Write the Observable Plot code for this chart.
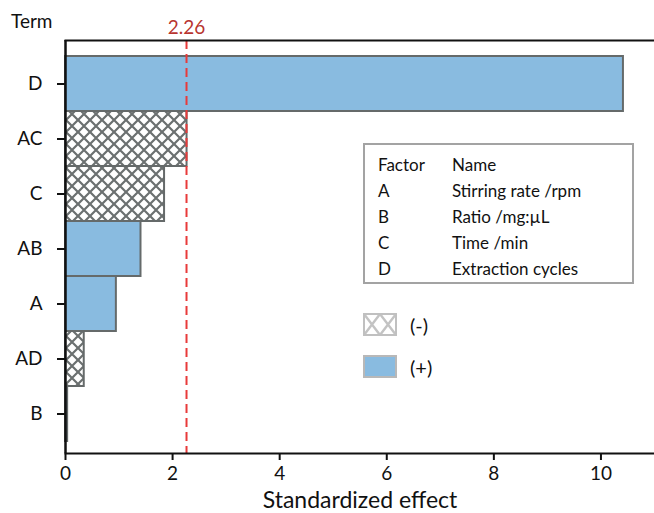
<!DOCTYPE html>
<html>
<head>
<meta charset="utf-8">
<script src="https://cdn.jsdelivr.net/npm/d3@7"></script>
<script src="https://cdn.jsdelivr.net/npm/@observablehq/plot@0.6"></script>
<style>
  html, body { margin: 0; padding: 0; background: white; }
  #wrap { position: relative; width: 654px; height: 513px; font-family: Lato, "DejaVu Sans", sans-serif; color: #111; }
  #wrap svg { display: block; }
  .abs { position: absolute; white-space: nowrap; line-height: 1; }
  #factorBox { position: absolute; left: 363px; top: 143px; width: 267px; height: 137px; border: 2px solid #a3a3a3; background: white; }
  .frow { position: absolute; left: 13px; font-size: 17px; transform: translateY(-50%); white-space: nowrap; line-height: 1; }
  .frow span.n { position: absolute; left: 74px; white-space: nowrap; }
</style>
</head>
<body>
<div id="wrap"></div>
<script>
const terms = ["D", "AC", "C", "AB", "A", "AD", "B"];
const effects = [10.42, 2.27, 1.85, 1.41, 0.95, 0.35, 0.04];
const signs = ["+", "-", "-", "+", "+", "-", "+"];
const threshold = 2.26;
const xTicks = [0, 2, 4, 6, 8, 10];
const factorCodes = ["A", "B", "C", "D"];
const factorNames = ["Stirring rate /rpm", "Ratio /mg:\u00b5L", "Time /min", "Extraction cycles"];
const signLabels = ["(-)", "(+)"];

const data = terms.map((t, i) => ({term: t, value: effects[i], sign: signs[i]}));

const chart = Plot.plot({
  width: 654,
  height: 513,
  marginLeft: 65,
  marginRight: 0,
  marginTop: 40,
  marginBottom: 60,
  style: {fontFamily: "Lato, sans-serif", background: "white", color: "#111", overflow: "visible"},
  x: {domain: [0, 11], ticks: xTicks},
  y: {domain: terms, range: [56, 441], padding: 0},
  color: {domain: ["-", "+"], range: ["url(#hatch)", "#89bbe0"]},
  marks: [
    Plot.barX(data, {x: "value", y: "term", fill: "sign", stroke: "#656a6a", strokeWidth: 2}),
    Plot.ruleX([threshold], {stroke: "#e83a3a", strokeWidth: 2, strokeDasharray: "9,5"}),
    Plot.text([threshold], {x: d => d, frameAnchor: "top", lineAnchor: "middle", dy: -13, text: d => d.toFixed(2), fill: "#b83530", fontSize: 19}),
    Plot.axisX({ticks: xTicks, tickSize: 7, tickPadding: 6, fontSize: 19, label: null, strokeWidth: 2, stroke: "#111", fill: "#111"}),
    Plot.axisY({tickSize: 8, tickPadding: 15, fontSize: 19, label: null, strokeWidth: 2, stroke: "#111", fill: "#111"}),
    Plot.ruleX([0], {stroke: "#111", strokeWidth: 2.5}),
    Plot.frame({anchor: "top", stroke: "#111", strokeWidth: 2}),
    Plot.frame({anchor: "bottom", stroke: "#111", strokeWidth: 2}),
    Plot.text(["Standardized effect"], {frameAnchor: "bottom", lineAnchor: "middle", dy: 47, fontSize: 23, fill: "#111"})
  ]
});

// hatch pattern definition
const ns = "http://www.w3.org/2000/svg";
const defs = document.createElementNS(ns, "defs");
defs.innerHTML = `<pattern id="hatch" patternUnits="userSpaceOnUse" width="12" height="12" x="66" y="0">
  <rect width="12" height="12" fill="white"/>
  <path d="M0,0L12,12M12,0L0,12" stroke="#6b7070" stroke-width="2.2"/>
</pattern>`;
chart.insertBefore(defs, chart.firstChild);

const wrap = document.getElementById("wrap");
wrap.appendChild(chart);

// Y axis title
const term = document.createElement("div");
term.className = "abs";
term.style.cssText = "left:11px;top:11px;font-size:19px;";
term.textContent = "Term";
wrap.appendChild(term);

// Factor table
const box = document.createElement("div");
box.id = "factorBox";
const rows = [["Factor", "Name"]].concat(factorCodes.map((c, i) => [c, factorNames[i]]));
rows.forEach((r, i) => {
  const d = document.createElement("div");
  d.className = "frow";
  d.style.top = (19 + i * 26) + "px";
  d.innerHTML = `<span>${r[0]}</span><span class="n">${r[1]}</span>`;
  box.appendChild(d);
});
wrap.appendChild(box);

// Sign legend
const swatches = [
  `<svg width="34" height="23"><defs><pattern id="hatch2" patternUnits="userSpaceOnUse" width="16" height="21" x="1" y="1"><rect width="16" height="21" fill="white"/><path d="M0,0L16,21M16,0L0,21" stroke="#c3c3c3" stroke-width="2.4"/></pattern></defs><rect x="1" y="1" width="32" height="21" fill="url(#hatch2)" stroke="#c0c0c0" stroke-width="2"/></svg>`,
  `<svg width="34" height="23"><rect x="1" y="1" width="32" height="21" fill="#89bbe0" stroke="#b8b8b8" stroke-width="2"/></svg>`
];
[314, 356].forEach((top, i) => {
  const s = document.createElement("div");
  s.className = "abs";
  s.style.cssText = `left:363px;top:${top - 1}px;`;
  s.innerHTML = swatches[i];
  wrap.appendChild(s);
  const l = document.createElement("div");
  l.className = "abs";
  l.style.cssText = `left:410px;top:${top + 11}px;font-size:20px;transform:translateY(-50%);`;
  l.textContent = signLabels[i];
  wrap.appendChild(l);
});
</script>
</body>
</html>
